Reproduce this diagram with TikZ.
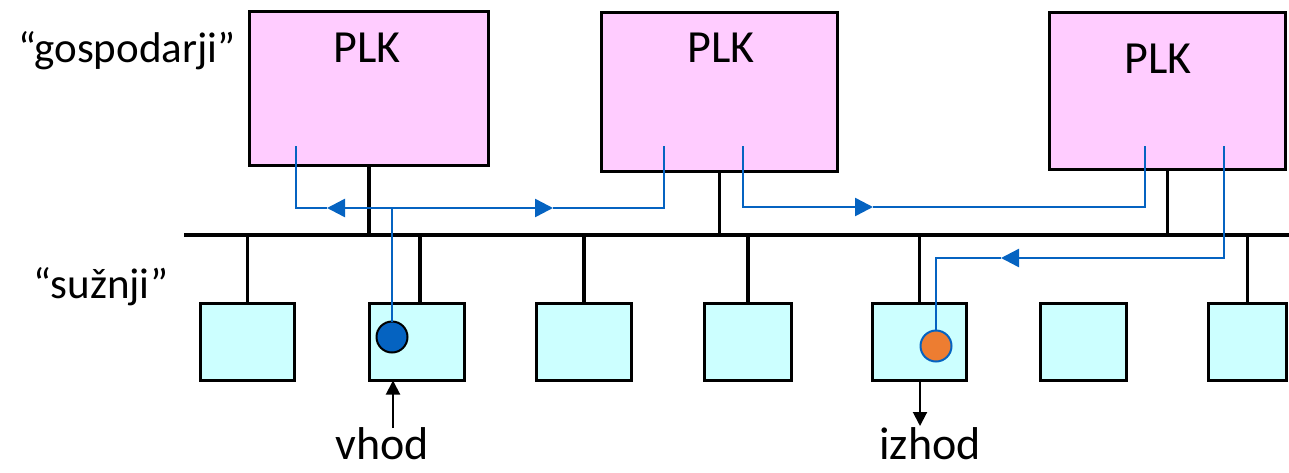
\documentclass[tikz,border=0pt]{standalone}
\usepackage{fontspec}
\setmainfont{Carlito}
\usetikzlibrary{arrows.meta}
\definecolor{plkpink}{HTML}{FFCCFF}
\definecolor{slavecyan}{HTML}{CCFFFF}
\definecolor{sigblue}{HTML}{0563C1}
\definecolor{outorange}{HTML}{ED7D31}
\begin{document}
\begin{tikzpicture}[x=1pt,y=-1pt,
  plk/.style={draw=black,fill=plkpink,line width=3pt,inner sep=0pt,outer sep=0pt},
  slave/.style={draw=black,fill=slavecyan,line width=3pt,inner sep=0pt,outer sep=0pt,minimum height=77pt},
  lbl/.style={font=\fontsize{43}{50}\selectfont,inner sep=0pt,anchor=base},
  big/.style={lbl,font=\fontsize{46}{52}\selectfont},
  bus/.style={line width=4.5pt},
  stub/.style={line width=3.5pt},
  sig/.style={draw=sigblue,line width=2.5pt},
  sigtip/.style={-{Triangle[length=18pt,width=18pt]}},
  io/.style={line width=2pt,-{Triangle[length=14pt,width=14pt]}},
  pin/.style={circle,inner sep=0pt,outer sep=0pt,line width=2pt,minimum size=31pt},
]
\useasboundingbox (0,0) rectangle (1289,472);

% masters
\node[plk,minimum width=239pt,minimum height=154pt] (plk1) at (369,88.5) {};
\node[plk,minimum width=236pt,minimum height=159pt] (plk2) at (719.5,92) {};
\node[plk,minimum width=236pt,minimum height=157pt] (plk3) at (1167.5,91) {};
\node[big] (plk1t) at (367,62) {PLK};
\node[big] (plk2t) at (721,62) {PLK};
\node[big] (plk3t) at (1158,73) {PLK};

% slaves
\node[slave,minimum width=94pt] (s1) at (247.5,342) {};
\node[slave,minimum width=95pt] (s2) at (417,342) {};
\node[slave,minimum width=95pt] (s3) at (584,342) {};
\node[slave,minimum width=87pt] (s4) at (748,342) {};
\node[slave,minimum width=94pt] (s5) at (919.5,342) {};
\node[slave,minimum width=86pt] (s6) at (1083.5,342) {};
\node[slave,minimum width=78pt] (s7) at (1247.5,342) {};

% side labels
\node[lbl] (masters) at (127,62) {“gospodarji”};
\node[lbl] (slaves) at (101,298) {“sužnji”};

% bus and its taps
\coordinate (busL) at (184,235);
\coordinate (busR) at (1289,235);
\draw[bus] (busL) -- (busR);
\foreach \m in {plk1,plk2,plk3}
  \draw[stub] (\m.south) -- (\m.south |- busL);
\foreach \s in {s1,s3,s4,s5,s7}
  \draw[stub] (\s.north) -- (\s.north |- busL);
\draw[stub] ([xshift=3pt]s2.north) -- ([xshift=3pt]s2.north |- busL);

% input and output pins
\node[pin,draw=black,fill=sigblue] (vin) at (392,337) {};
\node[pin,draw=sigblue,fill=outorange] (vout) at (936,346) {};

% signal paths
\coordinate (a1) at (296,146);
\coordinate (a2) at (664,146);
\coordinate (j) at (392,208);
\coordinate (tipL) at (327,208);
\coordinate (tipR) at (553,208);
\draw[sig] (vin.north) -- (j);
\draw[sig,sigtip] (j) -- (tipL);
\draw[sig] (tipL) -- (a1 |- j) -- (a1);
\draw[sig,sigtip] (j) -- (tipR);
\draw[sig] (tipR) -- (a2 |- j) -- (a2);

\coordinate (b1) at (743,146);
\coordinate (b2) at (1145,146);
\coordinate (tipB) at (873,207);
\draw[sig,sigtip] (b1) -- (b1 |- tipB) -- (tipB);
\draw[sig] (tipB) -- (b2 |- tipB) -- (b2);

\coordinate (c1) at (1224,146);
\coordinate (tipC) at (1001,258);
\draw[sig,sigtip] (c1) -- (c1 |- tipC) -- (tipC);
\draw[sig] (tipC) -- (vout.north |- tipC) -- (vout.north);

% process input and output
\node[big] (vhod) at (382,459) {vhod};
\node[big] (izhod) at (930,459) {izhod};
\coordinate (inA) at (393,428);
\draw[io] (inA) -- (inA |- s2.south);
\coordinate (outA) at (920,426);
\draw[io] (outA |- s5.south) -- (outA);
\end{tikzpicture}
\end{document}
